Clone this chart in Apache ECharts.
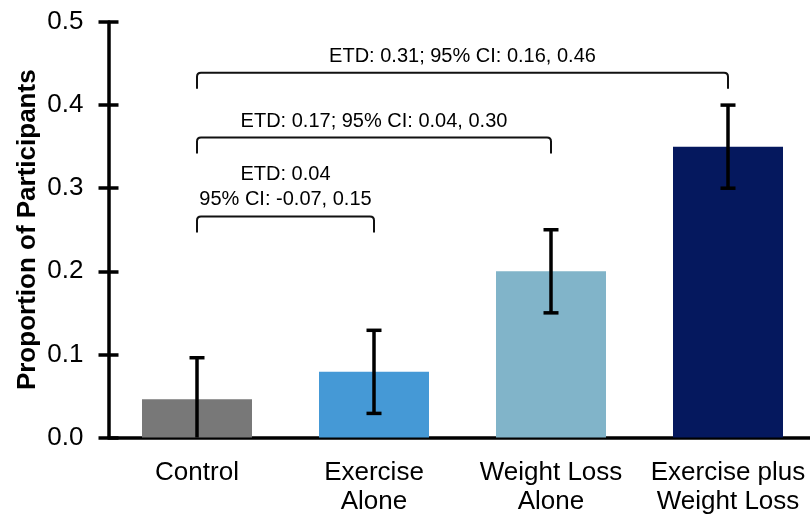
<!DOCTYPE html>
<html>
<head>
<meta charset="utf-8">
<script src="https://cdn.jsdelivr.net/npm/echarts@6/dist/echarts.min.js"></script>
<style>
  html, body { margin: 0; padding: 0; background: #fff; overflow: hidden; }
  #chart { width: 810px; height: 521px; }
</style>
</head>
<body>
<div id="chart"></div>
<script>
// ---- data ----
const categories = ['Control', 'Exercise\nAlone', 'Weight Loss\nAlone', 'Exercise plus\nWeight Loss'];
const proportions = [0.046, 0.079, 0.200, 0.350];
const ciLow = [-0.004, 0.029, 0.150, 0.300];
const ciHigh = [0.096, 0.129, 0.250, 0.400];
const barColors = ['#787878', '#4599d6', '#81b4c9', '#05185e'];
const yTickMin = 0, yTickMax = 0.5, yTickStep = 0.1;
const bracketFrom = [0, 0, 0];
const bracketTo = [1, 2, 3];
const bracketLevel = [0.266, 0.361, 0.439];
const bracketLabels = [
  'ETD: 0.04\n95% CI: -0.07, 0.15',
  'ETD: 0.17; 95% CI: 0.04, 0.30',
  'ETD: 0.31; 95% CI: 0.16, 0.46'
];

const FONT = '"Liberation Sans", Arial, Helvetica, sans-serif';

const chart = echarts.init(document.getElementById('chart'), null, { renderer: 'canvas' });

const barData = proportions.map((v, i) => ({ value: v, itemStyle: { color: barColors[i] } }));
const errData = proportions.map((v, i) => [i, ciLow[i], ciHigh[i]]);
const bracketData = bracketLevel.map((lv, k) => [bracketFrom[k], bracketTo[k], lv, k]);

const option = {
  animation: false,
  backgroundColor: '#ffffff',
  grid: { left: 108.5, right: -6.5, top: 22, bottom: 83.5, containLabel: false, outerBoundsMode: 'none' },
  xAxis: {
    type: 'category',
    data: categories,
    axisTick: { show: false },
    axisLine: { lineStyle: { color: '#000', width: 3.5 } },
    axisLabel: {
      interval: 0, color: '#000', fontSize: 26, fontFamily: FONT,
      lineHeight: 29, margin: 20.5
    }
  },
  yAxis: [{
    type: 'value',
    position: 'left',
    min: yTickMin, max: yTickMax, interval: yTickStep,
    name: 'Proportion of Participants',
    nameLocation: 'middle',
    nameGap: 68,
    nameMoveOverlap: false,
    nameTextStyle: { color: '#000', fontSize: 26, fontWeight: 'bold', fontFamily: FONT },
    axisLine: { show: true, lineStyle: { color: '#000', width: 3.5 } },
    axisTick: { show: true, length: 10, lineStyle: { color: '#000', width: 3.5 } },
    axisLabel: { color: '#000', fontSize: 26, fontFamily: FONT, margin: 25,
      formatter: v => v.toFixed(1) },
    splitLine: { show: false }
  }, {
    type: 'value',
    position: 'left',
    min: yTickMin, max: yTickMax, interval: yTickStep,
    axisLine: { show: false },
    axisTick: { show: true, inside: true, length: 10, lineStyle: { color: '#000', width: 3.5 } },
    axisLabel: { show: false },
    splitLine: { show: false }
  }],
  series: [{
    type: 'bar',
    data: barData,
    barWidth: 110,
    z: 2
  }, {
    type: 'custom',
    data: errData,
    encode: { x: 0, y: [1, 2] },
    z: 5,
    renderItem: function (params, api) {
      const idx = api.value(0);
      const lo = api.value(1);
      const hi = api.value(2);
      const top = api.coord([idx, hi]);
      const bot = api.coord([idx, Math.max(lo, 0)]);
      const cap = 7.5;
      const st = { stroke: '#000', lineWidth: 3.5 };
      const children = [
        { type: 'line', shape: { x1: top[0], y1: top[1], x2: bot[0], y2: bot[1] }, style: st },
        { type: 'line', shape: { x1: top[0] - cap, y1: top[1], x2: top[0] + cap, y2: top[1] }, style: st }
      ];
      if (lo > 0) {
        children.push({ type: 'line', shape: { x1: bot[0] - cap, y1: bot[1], x2: bot[0] + cap, y2: bot[1] }, style: st });
      }
      return { type: 'group', children: children };
    }
  }, {
    type: 'custom',
    data: bracketData,
    encode: { x: 0, y: 2 },
    z: 6,
    renderItem: function (params, api) {
      const i = api.value(0);
      const j = api.value(1);
      const lv = api.value(2);
      const k = api.value(3);
      const p1 = api.coord([i, lv]);
      const p2 = api.coord([j, lv]);
      const x1 = p1[0], x2 = p2[0], y = p1[1];
      const d = 16, r = 4;
      const path = 'M' + x1 + ' ' + (y + d) + ' L' + x1 + ' ' + (y + r) +
        ' Q' + x1 + ' ' + y + ' ' + (x1 + r) + ' ' + y +
        ' L' + (x2 - r) + ' ' + y +
        ' Q' + x2 + ' ' + y + ' ' + x2 + ' ' + (y + r) +
        ' L' + x2 + ' ' + (y + d);
      return {
        type: 'group',
        children: [{
          type: 'path',
          shape: { pathData: path },
          style: { stroke: '#111', lineWidth: 2, fill: null }
        }, {
          type: 'text',
          style: {
            text: bracketLabels[k],
            x: (x1 + x2) / 2,
            y: y - 4,
            align: 'center',
            verticalAlign: 'bottom',
            fontSize: 20,
            fontFamily: FONT,
            lineHeight: 25,
            fill: '#000'
          }
        }]
      };
    }
  }]
};

chart.setOption(option);
</script>
</body>
</html>
